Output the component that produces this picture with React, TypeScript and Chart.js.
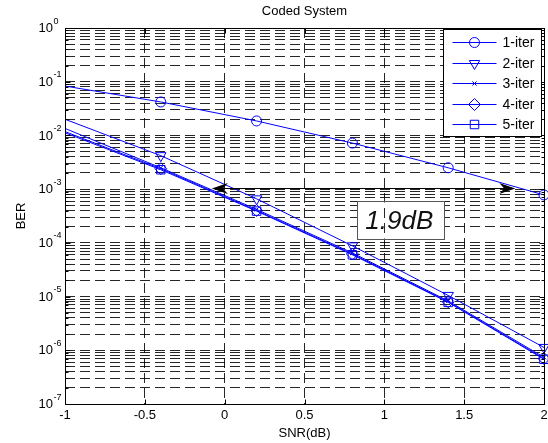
import React, { useEffect, useRef } from 'react';
import { Chart, registerables } from 'chart.js';

Chart.register(...registerables);

// ---- data ----
const SNR_DB = [-1, -0.4, 0.2, 0.8, 1.4, 2.0];
const BER_1ITER = [0.083, 0.042, 0.0186, 0.0072, 0.0025, 0.00078];
const BER_2ITER = [0.02, 0.0042, 0.00066, 8.8e-5, 1.05e-5, 1.13e-6];
const BER_3ITER = [0.0135, 0.0025, 4.2e-4, 6.5e-5, 8.3e-6, 7.4e-7];
const BER_4ITER = [0.0118, 0.0024, 4.0e-4, 6.2e-5, 8.0e-6, 7.0e-7];
const BER_5ITER = [0.0112, 0.0023, 3.9e-4, 6.0e-5, 7.8e-6, 6.8e-7];
const SERIES_LABELS = ['1-iter', '2-iter', '3-iter', '4-iter', '5-iter'];
const X_TICKS = [-1, -0.5, 0, 0.5, 1, 1.5, 2];
const Y_EXPONENTS = [0, -1, -2, -3, -4, -5, -6, -7];
const Y_MANTISSAS = [1, 2, 3, 4, 5, 6, 7, 8, 9];
const TITLE = 'Coded System';
const X_TITLE = 'SNR(dB)';
const Y_TITLE = 'BER';
// annotation: double arrow showing the gain
const ARROW_FROM_DB = -0.08;
const ARROW_TO_DB = 1.82;
const ARROW_BER = 1.05e-3;
const GAIN_LABEL = '1.9dB';
const GAIN_LABEL_DB = 1.1;
const GAIN_LABEL_BER = 2.7e-4;

// ---- styles ----
const BLUE = '#0000ff';
const GRID = 'rgba(0,0,0,0.85)';
const FONT = "'Liberation Sans', Arial, Helvetica, sans-serif";
const MARKERS = [
  { style: 'circle', rotation: 0, radius: 5 },
  { style: 'triangle', rotation: 180, radius: 6 },
  { style: 'crossRot', rotation: 0, radius: 3 },
  { style: 'rectRot', rotation: 0, radius: 6 },
  { style: 'rect', rotation: 0, radius: 6 },
];

function drawMarker(ctx: CanvasRenderingContext2D, kind: string, cx: number, cy: number, r: number) {
  ctx.beginPath();
  if (kind === 'circle') {
    ctx.arc(cx, cy, r, 0, Math.PI * 2);
  } else if (kind === 'triangle') {
    for (let k = 0; k < 3; k++) {
      const a = Math.PI + k * (2 * Math.PI / 3);
      const px = cx + Math.sin(a) * r;
      const py = cy - Math.cos(a) * r;
      if (k === 0) ctx.moveTo(px, py); else ctx.lineTo(px, py);
    }
    ctx.closePath();
  } else if (kind === 'crossRot') {
    const d = Math.SQRT1_2 * r;
    ctx.moveTo(cx - d, cy - d); ctx.lineTo(cx + d, cy + d);
    ctx.moveTo(cx - d, cy + d); ctx.lineTo(cx + d, cy - d);
  } else if (kind === 'rectRot') {
    ctx.moveTo(cx - r, cy); ctx.lineTo(cx, cy - r); ctx.lineTo(cx + r, cy); ctx.lineTo(cx, cy + r);
    ctx.closePath();
  } else if (kind === 'rect') {
    const s = Math.SQRT1_2 * r;
    ctx.rect(cx - s, cy - s, 2 * s, 2 * s);
  }
  ctx.stroke();
}

function arrowHead(ctx: CanvasRenderingContext2D, tipX: number, y: number, dir: number) {
  const len = 16, half = 5.5, notch = 11;
  ctx.beginPath();
  ctx.moveTo(tipX, y);
  ctx.lineTo(tipX - dir * len, y - half);
  ctx.lineTo(tipX - dir * notch, y);
  ctx.lineTo(tipX - dir * len, y + half);
  ctx.closePath();
  ctx.fill();
}

const decorPlugin = {
  id: 'decor',
  afterDraw(chart: any) {
    const { ctx, chartArea: a, scales } = chart;
    const xs = scales.x, ys = scales.y;
    ctx.save();

    // axes box
    ctx.strokeStyle = '#000';
    ctx.lineWidth = 1;
    ctx.setLineDash([]);
    const L = Math.round(a.left) + 0.5, R = Math.round(a.right) + 0.5;
    const T = Math.round(a.top) + 0.5, B = Math.round(a.bottom) + 0.5;
    ctx.strokeRect(L, T, R - L, B - T);

    // inward ticks
    ctx.beginPath();
    for (const t of ys.ticks) {
      const py = Math.round(ys.getPixelForValue(t.value)) + 0.5;
      const len = Math.abs(Math.log10(t.value) - Math.round(Math.log10(t.value))) < 1e-9 ? 5 : 3;
      ctx.moveTo(L, py); ctx.lineTo(L + len, py);
      ctx.moveTo(R, py); ctx.lineTo(R - len, py);
    }
    for (const v of X_TICKS) {
      const px = Math.round(xs.getPixelForValue(v)) + 0.5;
      ctx.moveTo(px, B); ctx.lineTo(px, B - 5);
      ctx.moveTo(px, T); ctx.lineTo(px, T + 5);
    }
    ctx.stroke();

    // y tick labels 10^n
    ctx.fillStyle = '#000';
    for (const e of Y_EXPONENTS) {
      const py = ys.getPixelForValue(Math.pow(10, e));
      const baseRight = a.left - 12;
      ctx.font = `13px ${FONT}`;
      ctx.textAlign = 'right';
      ctx.textBaseline = 'middle';
      ctx.fillText('10', baseRight, py + 0.5);
      ctx.font = `9px ${FONT}`;
      ctx.textAlign = 'left';
      ctx.textBaseline = 'alphabetic';
      ctx.fillText(String(e), baseRight + 0.5, py - 4.5);
    }

    // title
    ctx.font = `13px ${FONT}`;
    ctx.textAlign = 'center';
    ctx.textBaseline = 'middle';
    ctx.fillText(TITLE, (a.left + a.right) / 2, a.top - 16.5);

    // gain arrow
    const ay = Math.round(ys.getPixelForValue(ARROW_BER)) + 0.5;
    const ax1 = xs.getPixelForValue(ARROW_FROM_DB);
    const ax2 = xs.getPixelForValue(ARROW_TO_DB);
    ctx.strokeStyle = '#000';
    ctx.beginPath();
    ctx.moveTo(ax1 + 8, ay); ctx.lineTo(ax2 - 8, ay);
    ctx.stroke();
    ctx.fillStyle = '#000';
    arrowHead(ctx, ax1, ay, -1);
    arrowHead(ctx, ax2, ay, 1);

    // gain label box
    const cx = xs.getPixelForValue(GAIN_LABEL_DB);
    const cy = ys.getPixelForValue(GAIN_LABEL_BER);
    const bw = 87, bh = 38;
    const bx = Math.round(cx - bw / 2) + 0.5, by = Math.round(cy - bh / 2) + 0.5;
    ctx.fillStyle = '#fff';
    ctx.fillRect(bx, by, bw, bh);
    ctx.strokeStyle = '#555';
    ctx.strokeRect(bx, by, bw, bh);
    ctx.save();
    ctx.beginPath();
    ctx.rect(bx + 1, by + 1, bw - 2, bh - 2);
    ctx.clip();
    ctx.strokeStyle = GRID;
    ctx.setLineDash([10, 5]);
    const gx = Math.round(xs.getPixelForValue(1)) + 0.5;
    ctx.beginPath();
    ctx.moveTo(gx, a.top); ctx.lineTo(gx, a.bottom);
    ctx.stroke();
    ctx.restore();
    ctx.fillStyle = '#111';
    ctx.font = `italic 26px ${FONT}`;
    ctx.textAlign = 'center';
    ctx.textBaseline = 'middle';
    ctx.fillText(GAIN_LABEL, cx - 1, cy + 2);

    // legend
    const lgRight = Math.round(a.right) - 2.5;
    const lgLeft = lgRight - 98;
    const lgTop = Math.round(a.top) + 1.5;
    const lgBottom = lgTop + 107;
    ctx.setLineDash([]);
    ctx.fillStyle = '#fff';
    ctx.fillRect(lgLeft, lgTop, lgRight - lgLeft, lgBottom - lgTop);
    ctx.strokeStyle = '#000';
    ctx.lineWidth = 1;
    ctx.strokeRect(lgLeft, lgTop, lgRight - lgLeft, lgBottom - lgTop);
    SERIES_LABELS.forEach((lab, i) => {
      const ry = Math.round(lgTop + 12.5 + i * 20.5) + 0.5;
      const l1 = lgLeft + 9, l2 = lgLeft + 53;
      ctx.strokeStyle = BLUE;
      ctx.lineWidth = 1;
      ctx.beginPath();
      ctx.moveTo(l1, ry); ctx.lineTo(l2, ry);
      ctx.stroke();
      const m = MARKERS[i];
      drawMarker(ctx, m.style, (l1 + l2) / 2, ry, m.radius);
      ctx.fillStyle = '#000';
      ctx.font = `14px ${FONT}`;
      ctx.textAlign = 'left';
      ctx.textBaseline = 'middle';
      ctx.fillText(lab, lgLeft + 59, ry + 0.5);
    });

    ctx.restore();
  },
};

export default function App() {
  const ref = useRef<HTMLCanvasElement | null>(null);

  useEffect(() => {
    const canvas = ref.current;
    if (!canvas) return;
    const seriesValues = [BER_1ITER, BER_2ITER, BER_3ITER, BER_4ITER, BER_5ITER];
    const yTickValues: number[] = [];
    for (let e = -7; e < 0; e++) {
      for (const m of Y_MANTISSAS) yTickValues.push(m * Math.pow(10, e));
    }
    yTickValues.push(1);

    const chart = new Chart(canvas, {
      type: 'line',
      data: {
        datasets: seriesValues.map((vals, i) => ({
          label: SERIES_LABELS[i],
          data: SNR_DB.map((xv, j) => ({ x: xv, y: vals[j] })),
          borderColor: BLUE,
          borderWidth: 1,
          backgroundColor: 'rgba(0,0,0,0)',
          fill: false,
          tension: 0,
          pointStyle: MARKERS[i].style as any,
          pointRotation: MARKERS[i].rotation,
          pointRadius: SNR_DB.map((_, j) => (j === 0 ? 0 : MARKERS[i].radius)),
          pointBorderColor: BLUE,
          pointBorderWidth: 1,
          pointBackgroundColor: 'rgba(0,0,0,0)',
          clip: false as any,
        })),
      },
      options: {
        animation: false,
        responsive: false,
        events: [],
        layout: { autoPadding: false, padding: { left: 0, right: 4, top: 28, bottom: 0 } },
        plugins: {
          legend: { display: false },
          title: { display: false },
          tooltip: { enabled: false },
        },
        scales: {
          x: {
            type: 'linear',
            min: -1,
            max: 2,
            afterBuildTicks: (s: any) => {
              s.ticks = X_TICKS.map((v) => ({ value: v }));
            },
            ticks: {
              color: '#000',
              font: { family: FONT, size: 13 },
              padding: 4,
              autoSkip: false,
              maxRotation: 0,
              callback: (v: any) => String(v),
            },
            grid: { color: GRID, lineWidth: 1, drawTicks: false },
            border: { display: false, dash: [10, 5] },
            title: {
              display: true,
              text: X_TITLE,
              color: '#000',
              font: { family: FONT, size: 13 },
              padding: { top: 2, bottom: 2 },
            },
            afterFit: (s: any) => {
              s.height = 39;
              s.paddingLeft = 0;
              s.paddingRight = 0;
            },
          },
          y: {
            type: 'logarithmic',
            min: 1e-7,
            max: 1,
            afterBuildTicks: (s: any) => {
              s.ticks = yTickValues.map((v) => ({ value: v }));
            },
            ticks: { display: false },
            grid: { color: GRID, lineWidth: 1, drawTicks: false },
            border: { display: false, dash: [10, 5] },
            title: {
              display: true,
              text: Y_TITLE,
              color: '#000',
              font: { family: FONT, size: 13 },
              padding: { top: 14, bottom: 0 },
            },
            afterFit: (s: any) => {
              s.width = 65;
              s.paddingTop = 0;
              s.paddingBottom = 0;
            },
          },
        },
      },
      plugins: [decorPlugin],
    });
    return () => chart.destroy();
  }, []);

  return (
    <div style={{ position: 'fixed', left: 0, top: 0, width: 548, height: 443, background: '#fff' }}>
      <canvas ref={ref} width={548} height={443} style={{ display: 'block', width: 548, height: 443 }} />
    </div>
  );
}
